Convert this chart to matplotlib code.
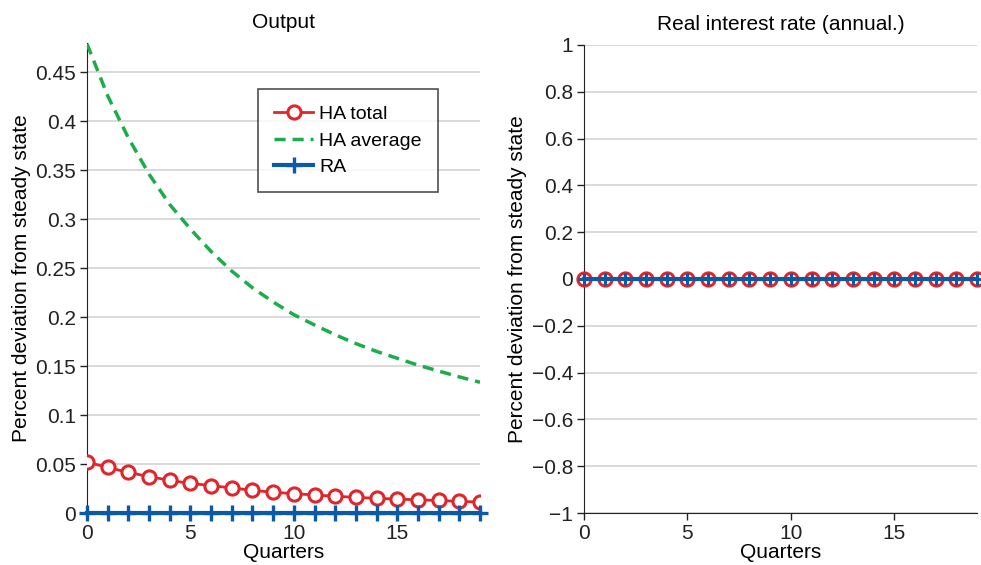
import matplotlib
matplotlib.use("Agg")
import matplotlib.pyplot as plt
from matplotlib.ticker import FuncFormatter, MultipleLocator
import numpy as np

plt.rcParams['font.family'] = ['Liberation Sans', 'DejaVu Sans']

quarters = list(range(20))
ha_total = [0.052, 0.0466, 0.0414, 0.0372, 0.0334, 0.0302, 0.0280, 0.0256, 0.0232, 0.0212,
            0.0198, 0.0184, 0.0171, 0.0160, 0.0150, 0.0142, 0.0135, 0.0128, 0.0119, 0.0112]
ha_average = [0.479, 0.426, 0.383, 0.346, 0.315, 0.290, 0.267, 0.247, 0.230, 0.2155,
              0.2025, 0.192, 0.182, 0.173, 0.165, 0.158, 0.151, 0.145, 0.139, 0.1335]
ra_output = [0.0] * 20
rate_ha = [0.0] * 20
rate_ra = [0.0] * 20

RED = '#e0252b'
GREEN = '#1cad4b'
BLUE = '#0b5aa8'
GRID = '#cfcfcf'
FS = 15

fig = plt.figure(figsize=(9.81, 5.65), dpi=100)
ax1 = fig.add_axes([0.0887, 0.092, 0.4006, 0.832])
ax2 = fig.add_axes([0.5953, 0.092, 0.4006, 0.8284])

def fmt(v, pos):
    s = '%g' % round(v, 6)
    if s == '-0':
        s = '0'
    return s.replace('-', '\u2212')

for ax in (ax1, ax2):
    for side in ('top', 'right'):
        ax.spines[side].set_visible(False)
    ax.spines['left'].set_color('#222222')
    ax.spines['bottom'].set_color('#222222')
    ax.tick_params(direction='out', length=5, width=1, colors='#222222', labelsize=FS, pad=3)
    ax.grid(axis='y', color=GRID, linewidth=1.1)
    ax.set_axisbelow(True)
    ax.set_xlim(0, 19)
    ax.xaxis.set_major_locator(MultipleLocator(5))
    ax.yaxis.set_major_formatter(FuncFormatter(fmt))
    ax.set_xlabel('Quarters', fontsize=FS, labelpad=0)
    ax.set_ylabel('Percent deviation from steady state', fontsize=FS, labelpad=3)

# Left: Output
ax1.plot(quarters, ha_average, color=GREEN, linestyle=(0, (3.2, 2.0)), linewidth=2.5,
         label='HA average', zorder=3)
ax1.plot(quarters, ha_total, color=RED, linewidth=2.0, marker='o', markersize=9.5,
         markerfacecolor='white', markeredgewidth=2.2, markeredgecolor=RED,
         label='HA total', zorder=4)
ax1.plot(quarters, ra_output, color=BLUE, linewidth=3.0, marker='+', markersize=11,
         markeredgewidth=2.4, label='RA', zorder=5, clip_on=False)
ax1.set_ylim(0, 0.48)
ax1.yaxis.set_major_locator(MultipleLocator(0.05))
ax1.set_title('Output', fontsize=FS, pad=11)

handles, labels = ax1.get_legend_handles_labels()
order = [labels.index('HA total'), labels.index('HA average'), labels.index('RA')]
leg = ax1.legend([handles[i] for i in order], [labels[i] for i in order],
                 loc='upper right', bbox_to_anchor=(0.893, 0.902), borderaxespad=0,
                 fontsize=14, frameon=True, fancybox=False, handlelength=2.0,
                 handletextpad=0.3, borderpad=0.85, labelspacing=0.45)
leg.get_frame().set_edgecolor('#222222')
leg.get_frame().set_linewidth(1.2)

# Right: Real interest rate
ax2.plot(quarters, rate_ha, color=RED, linewidth=2.0, marker='o', markersize=9.5,
         markerfacecolor='white', markeredgewidth=2.2, markeredgecolor=RED, zorder=4,
         clip_on=False)
ax2.plot(quarters, rate_ra, color=BLUE, linewidth=3.0, marker='+', markersize=8,
         markeredgewidth=2.2, zorder=5, clip_on=False)
ax2.set_ylim(-1, 1)
ax2.yaxis.set_major_locator(MultipleLocator(0.2))
ax2.set_title('Real interest rate (annual.)', fontsize=FS, pad=11)

fig.savefig('out.png', dpi=100)
